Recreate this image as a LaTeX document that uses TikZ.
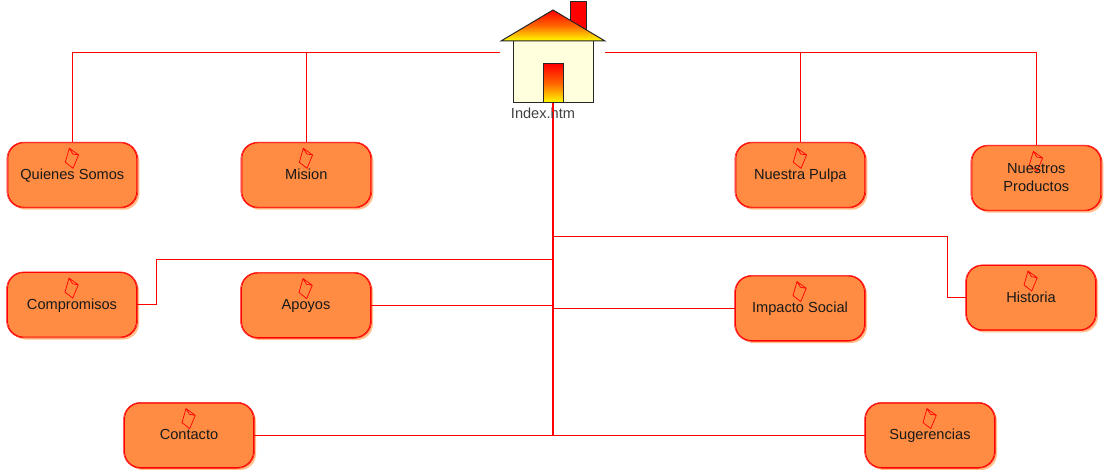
\documentclass[tikz,border=0pt]{standalone}
\usepackage{fontspec}
\setmainfont{Liberation Sans}
\usetikzlibrary{shadows}
\definecolor{modfill}{HTML}{FF8C42}
\definecolor{modshadow}{HTML}{FFC08A}
\definecolor{wallfill}{HTML}{FFFFDD}
\tikzset{
  modbox/.style={draw=red,line width=0.9pt,fill=modfill,rounded corners=16pt,minimum width=129pt,minimum height=64.5pt,inner sep=0pt,
    general shadow={fill=modshadow,shadow xshift=2.5pt,shadow yshift=-2.5pt}},
  sketch/.style={draw=red,line width=0.5pt,rounded corners=17pt},
  modtext/.style={font=\fontsize{14.6}{18}\selectfont,text=black!90,text height=10pt,text depth=3pt,yshift=-1pt,inner sep=0pt},
  modtwo/.style={font=\fontsize{14.6}{18}\selectfont,text=black!90,align=center,inner sep=0pt},
  link/.style={draw=red,line width=1.1pt},
  trunk/.style={draw=red,line width=1.9pt},
  houseline/.style={draw=black!85,line width=1pt},
  sunset/.style={top color=red,bottom color=yellow,middle color=orange!80!red},
  docicon/.style={draw=red,line width=0.7pt}
}
\newcommand{\modicon}[1]{%
  \draw[docicon,shift={(#1.center)}] (-3,-26.7) -- (6.3,-20) -- (0.7,-6.7) -- (-7,-12.7) -- cycle (-3,-26.7) -- (0.5,-21) -- (6.3,-20);
  \draw[sketch] ([shift={(-0.5,0.3)}]#1.south west) rectangle ([shift={(0.6,-0.2)}]#1.north east);}
\begin{document}
\begin{tikzpicture}[x=1pt,y=-1pt]
\useasboundingbox (0,0) rectangle (1106,470);
\coordinate (hl) at (500,52.3);
\coordinate (hr) at (605,52.3);
\coordinate (hb) at (553,103);
\coordinate (j1) at (553,259.7);
\coordinate (j4) at (553,236.8);
\coordinate (j5) at (553,435.3);
\coordinate (e1) at (156.7,259.7);
\coordinate (e2) at (947.3,236.8);
\node[modbox] (quienes) at (72.3,175) {};
\node[modbox] (mision) at (306.3,175) {};
\node[modbox] (pulpa) at (800.3,175) {};
\node[modbox] (productos) at (1036.3,178) {};
\node[modbox] (compromisos) at (72,304.8) {};
\node[modbox] (apoyos) at (306,305.3) {};
\node[modbox] (impacto) at (800,308.3) {};
\node[modbox] (historia) at (1031,297.7) {};
\node[modbox] (contacto) at (189,435.3) {};
\node[modbox] (sugerencias) at (930,435.3) {};
\draw[link] (hl) -| (quienes.north);
\draw[link] (hl) -| (mision.north);
\draw[link] (hr) -| (pulpa.north);
\draw[link] (hr) -| (productos.north);
\draw[link,line width=1.5pt] (hl) -- (mision.north |- hl);
\draw[link,line width=1.5pt] (hr) -- (pulpa.north |- hr);
\draw[trunk] (hb) -- (j5);
\draw[link] (j1) -- (e1) |- (compromisos.east);
\draw[link] (apoyos.east) -- (apoyos.east -| j1);
\draw[link] (impacto.west -| j1) -- (impacto.west);
\draw[link] (j4) -- (e2) |- (historia.west);
\draw[link] (contacto.east) -- (sugerencias.west);
\foreach \n in {quienes,mision,pulpa,productos,compromisos,apoyos,impacto,historia,contacto,sugerencias}{\modicon{\n}}
\node[modtext] at (quienes) {Quienes Somos};
\node[modtext] at (mision) {Mision};
\node[modtext] at (pulpa) {Nuestra Pulpa};
\node[modtwo] at (productos) {Nuestros\\Productos};
\node[modtext] at (compromisos) {Compromisos};
\node[modtext] at (apoyos) {Apoyos};
\node[modtext] at (impacto) {Impacto Social};
\node[modtext] at (historia) {Historia};
\node[modtext] at (contacto) {Contacto};
\node[modtext] at (sugerencias) {Sugerencias};
% house
\draw[houseline,fill=red,line width=0.8pt] (570,1) rectangle (586,30);
\draw[houseline,fill=wallfill] (513,41) rectangle (593,103);
\shade[sunset] (553,10) -- (605,41) -- (501,41) -- cycle;
\draw[houseline,line join=miter] (553,10) -- (605,41) -- (501,41) -- cycle;
\shade[sunset] (543,64) rectangle (563,103);
\draw[houseline] (543,64) rectangle (563,103);
\node[font=\fontsize{14.6}{18}\selectfont,text=black!75,inner sep=0pt] (index) at (543,113) {Index.htm};
\draw[trunk] (hb) -- (553,112);
\end{tikzpicture}
\end{document}
